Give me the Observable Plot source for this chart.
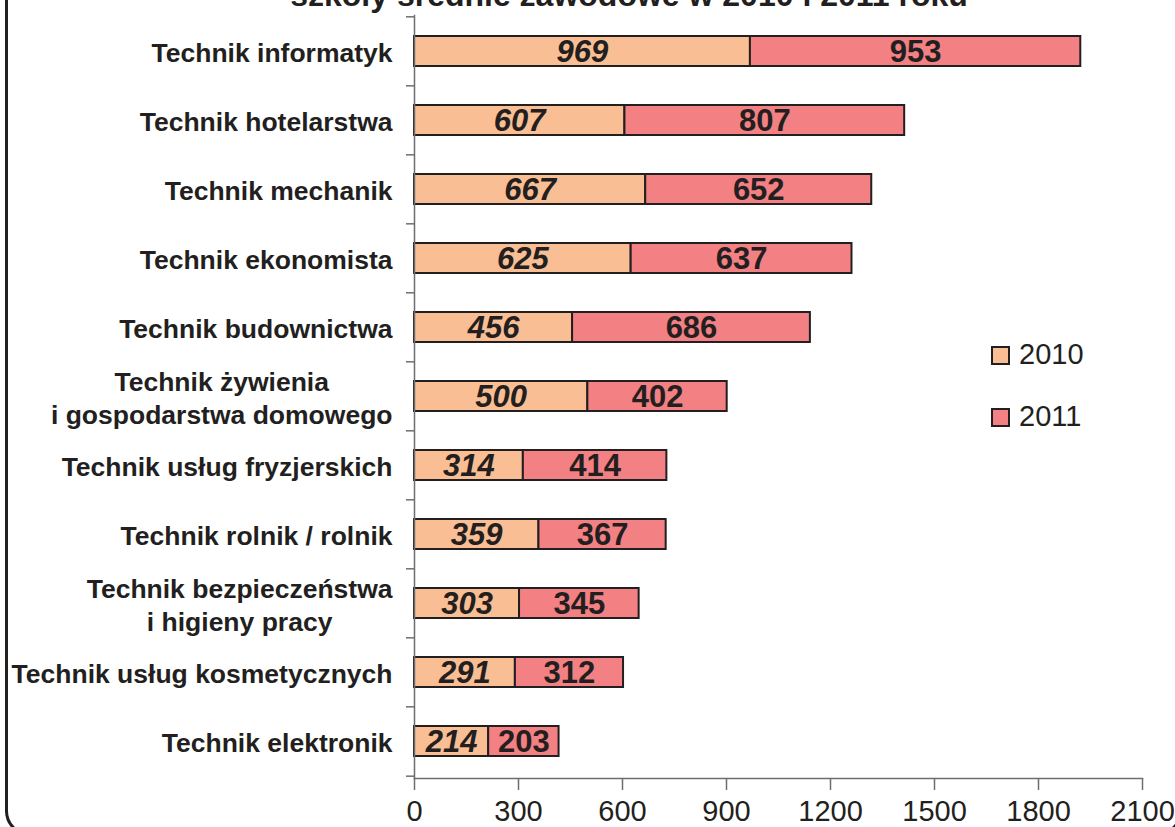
<!DOCTYPE html>
<html>
<head>
<meta charset="utf-8">
<script src="https://cdn.jsdelivr.net/npm/d3@7"></script>
<script src="https://cdn.jsdelivr.net/npm/@observablehq/plot@0.6"></script>
<style>
  html, body { margin: 0; padding: 0; background: #fff; overflow: hidden; }
  #wrap { position: relative; width: 1175px; height: 827px; overflow: hidden; }
  #frame { position: absolute; left: 5px; top: -30px; width: 1177px; height: 866px; box-sizing: border-box;
           border: 3px solid #231f20; border-radius: 25px; pointer-events: none; }
  #title { position: absolute; left: 0; width: 1258px; top: -21px; text-align: center; font: bold 32px "Liberation Sans", Arial, sans-serif;
           line-height: 32px; color: #231f20; white-space: nowrap; }
  #chart { position: absolute; left: 0; top: 0; }
  .leg { position: absolute; font: 29px "Liberation Sans", Arial, sans-serif; color: #231f20; line-height: 29px; }
  .leg span.sw { display: inline-block; width: 19px; height: 19px; box-sizing: border-box; border: 2px solid #231f20; margin-right: 9px; vertical-align: -1px; }
</style>
</head>
<body>
<div id="wrap">
  <div id="chart"></div>
  <div id="title">szkoły średnie zawodowe w 2010 i 2011 roku</div>
  <div id="legend"></div>
  <div id="frame"></div>
</div>
<script>
const categories = [
  "Technik informatyk",
  "Technik hotelarstwa",
  "Technik mechanik",
  "Technik ekonomista",
  "Technik budownictwa",
  "Technik żywienia\ni gospodarstwa domowego",
  "Technik usług fryzjerskich",
  "Technik rolnik / rolnik",
  "Technik bezpieczeństwa\ni higieny pracy",
  "Technik usług kosmetycznych",
  "Technik elektronik"
];
const years = ["2010", "2011"];
const values2010 = [969, 607, 667, 625, 456, 500, 314, 359, 303, 291, 214];
const values2011 = [953, 807, 652, 637, 686, 402, 414, 367, 345, 312, 203];
const xTicks = [0, 300, 600, 900, 1200, 1500, 1800, 2100];
const colors = ["#fabe94", "#f38082"];

const data = [];
categories.forEach((c, i) => {
  data.push({cat: c, year: years[0], value: values2010[i]});
  data.push({cat: c, year: years[1], value: values2011[i]});
});

const W = 1175, H = 827;
const mL = 414, mR = 33, mT = 15, mB = 49;
const step = (H - mT - mB) / categories.length;
const dark = "#231f20";
const axisGray = "#6d6e71";

const cv = document.createElement("canvas").getContext("2d");
function has(font) {
  cv.font = `40px "${font}", monospace`; const a = cv.measureText("2100 abc").width;
  cv.font = `40px "${font}", serif`; const b = cv.measureText("2100 abc").width;
  return a === b;
}
const narrowOK = has("Liberation Sans Narrow");
const narrowFam = narrowOK ? '"Liberation Sans Narrow"' : '"Liberation Sans"';

const labelSize = 26.5;
cv.font = `bold ${labelSize}px "Liberation Sans"`;
function blockWidth(s) { return Math.max(...s.split("\n").map(l => cv.measureText(l).width)); }

const labelMarks = categories.map(c => Plot.text([c], {
  y: d => d, text: d => d, frameAnchor: "left", textAnchor: "middle", lineAnchor: "middle",
  lineHeight: 1.25, dx: -(22 + blockWidth(c) / 2), fontSize: labelSize, fontWeight: "bold",
  fontFamily: '"Liberation Sans", Arial, sans-serif', fill: dark
}));

const chart = Plot.plot({
  width: W, height: H,
  marginLeft: mL, marginRight: mR, marginTop: mT, marginBottom: mB,
  style: {background: "transparent", overflow: "visible"},
  x: {domain: [0, 2100], axis: null, label: null},
  y: {domain: categories, paddingInner: 0.56, paddingOuter: 0.28, axis: null, label: null},
  color: {domain: years, range: colors},
  marks: [
    Plot.barX(data, Plot.stackX({x: "value", y: "cat", fill: "year", stroke: dark, strokeWidth: 2})),
    Plot.text(data, Plot.stackX({x: "value", y: "cat", z: "year",
      text: d => d.year === "2010" ? String(d.value) : "",
      fontSize: 31, fontWeight: "bold", fontStyle: "italic", fontFamily: narrowFam + ", sans-serif", fill: dark, dy: 1})),
    Plot.text(data, Plot.stackX({x: "value", y: "cat", z: "year",
      text: d => d.year === "2011" ? String(d.value) : "",
      fontSize: 31, fontWeight: "bold", fontFamily: narrowFam + ", sans-serif", fill: dark, dy: 1})),
    Plot.frame({anchor: "left", stroke: axisGray, strokeWidth: 1.5}),
    Plot.frame({anchor: "bottom", stroke: axisGray, strokeWidth: 1.5}),
    Plot.axisY(categories, {anchor: "left", label: null, tickSize: 8, tickFormat: () => "", dy: -step / 2, stroke: axisGray, strokeWidth: 1.5}),
    Plot.axisY([categories[categories.length - 1]], {anchor: "left", label: null, tickSize: 8, tickFormat: () => "", dy: step / 2, stroke: axisGray, strokeWidth: 1.5}),
    Plot.axisX(xTicks, {anchor: "bottom", label: null, tickSize: 12, tickPadding: 10, stroke: axisGray, strokeWidth: 1.5,
      fontSize: 29, fontFamily: narrowFam + ", sans-serif", fill: dark, tickFormat: d => String(d)}),
    ...labelMarks
  ]
});
document.getElementById("chart").appendChild(chart);

const leg = document.getElementById("legend");
const legTop = [340, 402];
years.forEach((y, i) => {
  const d = document.createElement("div");
  d.className = "leg";
  d.style.left = "991px";
  d.style.top = legTop[i] + "px";
  d.innerHTML = `<span class="sw" style="background:${colors[i]}"></span>${y}`;
  leg.appendChild(d);
});
</script>
</body>
</html>
